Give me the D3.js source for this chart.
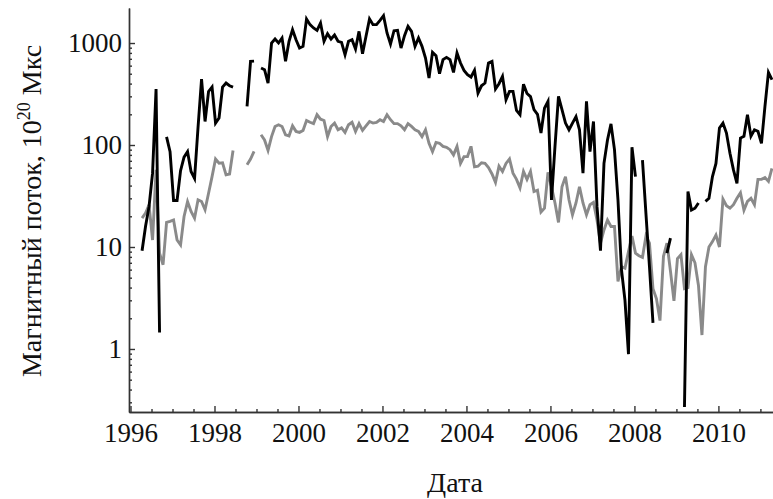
<!DOCTYPE html>
<html>
<head>
<meta charset="utf-8">
<script src="https://cdn.jsdelivr.net/npm/d3@7"></script>
<style>
  body { margin: 0; background: #fff; }
  svg { display: block; }
  text { font-family: "Liberation Serif", "Times New Roman", serif; fill: #111; }
</style>
</head>
<body>
<svg id="chart" width="773" height="499"></svg>
<script>
// Monthly samples starting April 1996 (decimal year of the first sample)
const startYear = 1996.275;

// Upper curve (black), 10^20 Mx; null = no data
const fluxHigh = [
  9.2, 16, 25, 53, 354, 1.45, null, 120, 86, 28.6,
  28.6, 56, 76, 86, 55, 47, 150, 443, 170, 335,
  370, 164, 184, 370, 405, 381, 370, null, null, null,
  239, 661, 665, null, 569, 548, 405, 1000, 1094, 1000,
  1120, 661, 1040, 1352, 1078, 893, 928, 1720, 1514, 1404,
  1330, 1570, 1040, 1234, 1094, 1198, 1040, 1015, 768, 1040,
  1078, 873, 1301, 786, 1163, 1720, 1514, 1514, 1670, 1853,
  1254, 977, 1320, 1330, 893, 1180, 1458, 1301, 928, 1120,
  928, 713, 454, 810, 751, 500, 687, 723, 687, 515,
  798, 636, 539, 489, 464, 539, 323, 381, 405, 636,
  661, 354, 399, 471, 278, 336, 336, 218, 198, 395,
  320, 298, 222, 200, 131, 230, 268, 29, 97, 300,
  222, 164, 141, 164, 190, 141, 53, 268, 86, 170,
  25, 9.2, 66, 112, 161, 90, 29, 6.0, 3.0, 0.89,
  95, 49, null, 71, 21, 6.4, 1.8, null, null, null,
  8.7, 12.2, null, null, null, 0.27, 35, 23, 24, 27,
  null, 28, 30, 49, 66, 147, 164, 131, 83, 57,
  42, 117, 122, 198, 122, 141, 136, 104, 239, 515,
  437
];

// Lower curve (grey), 10^20 Mx; null = no data
const fluxLow = [
  19.2, 21.5, 25.9, 11.7, 57, 8.7, 6.7, 17.4, 17.8, 18.4,
  11.7, 10.5, 19.9, 27.9, 22.3, 19.2, 29, 27.9, 23.2, 33.7,
  49, 72.8, 66.4, 67, 51, 52, 88.5, null, null, null,
  64, 72.8, 86.4, null, 126, 112, 88.5, 121, 152, 158,
  152, 126, 123, 154, 136, 133, 139, 174, 167, 162,
  198, 179, 174, 121, 152, 164, 141, 147, 133, 158,
  167, 136, 162, 139, 154, 170, 164, 167, 177, 170,
  198, 177, 162, 162, 154, 141, 162, 152, 141, 136,
  121, 141, 104, 86, 106, 104, 97, 95, 90, 80,
  97, 66, 77, 77, 97, 61, 62, 67, 66, 60,
  52, 43, 62, 55, 66, 73, 53, 46, 38, 55,
  46, 55, 35, 36, 22, 24, 54, 39, 27, 17.4,
  39, 49, 29, 20.7, 27, 39, 27, 20.7, 26, 27.4,
  18.4, 10.9, 14.7, 18.4, 15.9, 15.9, 4.6, 6.4, 6.2, 9,
  12.8, 8.7, 8.2, 7.9, 12.8, 10.9, 3.9, 3.1, 1.9, 8.1,
  10.9, 5.8, 2.96, 7.7, 8.4, 3.9, 4, 8.4, 7.0, 4.2,
  1.37, 6.4, 10, 11.3, 13.1, 10, 29.5, 25.4, 24, 26,
  30, 34, 23, 28, 30, 26, 46, 46, 48, 44,
  59
];

const xTickYears = [1996, 1998, 2000, 2002, 2004, 2006, 2008, 2010];
const yTickValues = [1, 10, 100, 1000];
const yTitle = { main: "Магнитный поток, 10", sup: "20", tail: " Мкс" };
const xTitle = "Дата";

const svg = d3.select("#chart");
const plotLeft = 129, plotRight = 773, plotTop = 8, plotBottom = 412;

const x = d3.scaleLinear().domain([1995.964, 2011.30]).range([plotLeft, plotRight]);
const y = d3.scaleLog().domain([0.241, 2205]).range([plotBottom, plotTop]);

const toPoints = arr => arr.map((v, i) => ({ t: startYear + i / 12, v }));

const line = d3.line()
  .defined(d => d.v != null)
  .x(d => x(d.t))
  .y(d => y(d.v));

// Minor tick positions
const yMinor = [];
for (let e = -1; e <= 3; e++) {
  for (let k = 2; k <= 9; k++) {
    const v = k * Math.pow(10, e);
    if (v >= 0.25 && v <= 1000) yMinor.push(v);
  }
}
const xMinor = d3.range(1996, 2011.31, 0.5).filter(v => !xTickYears.includes(v));

const axisColor = "#333";

// Y axis: minor then major ticks (drawn inward)
svg.append("g").attr("transform", `translate(${plotLeft},0)`)
  .call(d3.axisLeft(y).tickValues(yMinor).tickSizeInner(-3).tickSizeOuter(0).tickFormat(""));
const gy = svg.append("g").attr("transform", `translate(${plotLeft},0)`)
  .call(d3.axisLeft(y).tickValues(yTickValues).tickSizeInner(-6).tickSizeOuter(0)
    .tickPadding(7).tickFormat(d3.format("d")));

// X axis
svg.append("g").attr("transform", `translate(0,${plotBottom})`)
  .call(d3.axisBottom(x).tickValues(xMinor).tickSizeInner(-3).tickSizeOuter(0).tickFormat(""));
const gx = svg.append("g").attr("transform", `translate(0,${plotBottom})`)
  .call(d3.axisBottom(x).tickValues(xTickYears).tickSizeInner(-6).tickSizeOuter(0)
    .tickPadding(11).tickFormat(d3.format("d")));

svg.selectAll(".domain, .tick line").attr("stroke", axisColor).attr("stroke-width", 1.4);
gy.selectAll("text").attr("font-size", 27).attr("font-family", "Liberation Serif").attr("fill", "#111");
gx.selectAll("text").attr("font-size", 27).attr("font-family", "Liberation Serif").attr("fill", "#111");

// Data curves
svg.append("path")
  .datum(toPoints(fluxLow))
  .attr("fill", "none")
  .attr("stroke", "#8a8a8a")
  .attr("stroke-width", 2.9)
  .attr("stroke-linejoin", "miter")
  .attr("d", line);

svg.append("path")
  .datum(toPoints(fluxHigh))
  .attr("fill", "none")
  .attr("stroke", "#000")
  .attr("stroke-width", 2.9)
  .attr("stroke-linejoin", "miter")
  .attr("d", line);

// Axis titles
const yt = svg.append("text")
  .attr("transform", "translate(41,211) rotate(-90)")
  .attr("text-anchor", "middle")
  .attr("font-size", 28);
yt.append("tspan").text(yTitle.main);
yt.append("tspan").attr("font-size", 18).attr("dy", -11).text(yTitle.sup);
yt.append("tspan").attr("dy", 11).text(yTitle.tail);

svg.append("text")
  .attr("x", (plotLeft + plotRight) / 2 + 4)
  .attr("y", 492)
  .attr("text-anchor", "middle")
  .attr("font-size", 28)
  .text(xTitle);
</script>
</body>
</html>
